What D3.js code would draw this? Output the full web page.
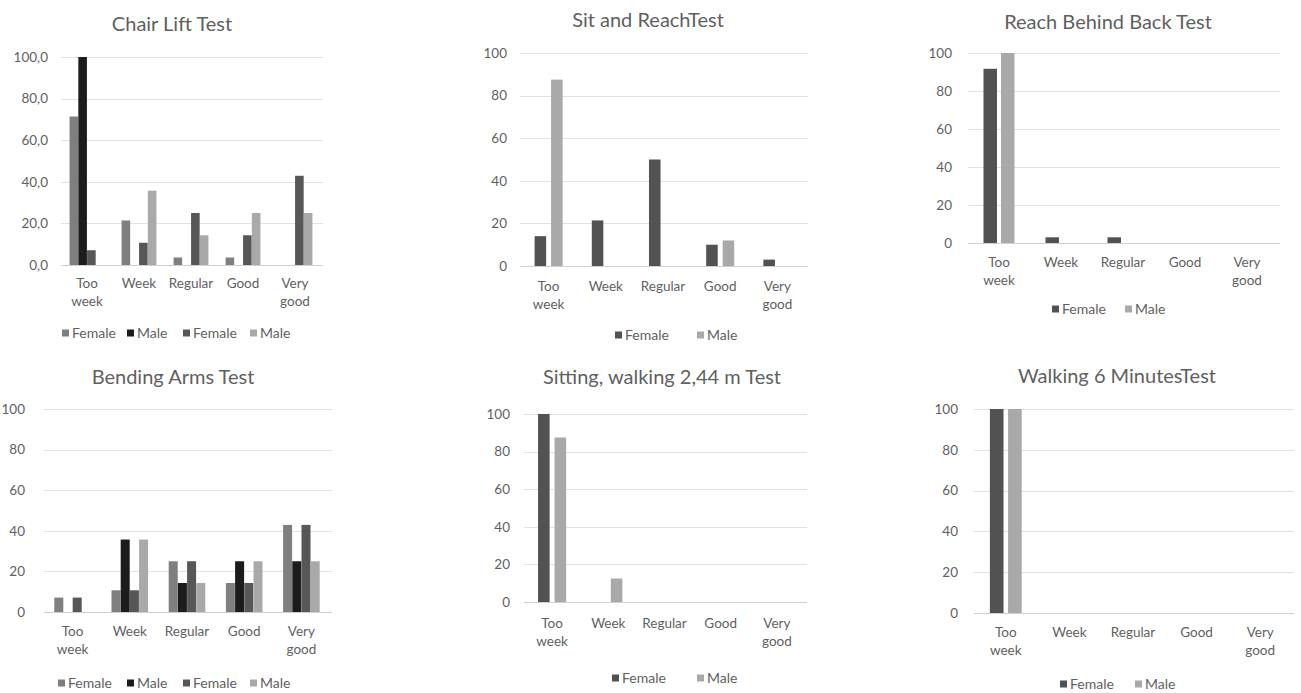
<!DOCTYPE html>
<html>
<head>
<meta charset="utf-8">
<script src="https://cdn.jsdelivr.net/npm/d3@7"></script>
<style>
  html, body { margin: 0; padding: 0; background: #fff; }
  svg { display: block; }
  text { font-family: Lato, "Open Sans", sans-serif; fill: #5f5f5f; }
</style>
</head>
<body>
<svg id="chart" width="1301" height="693"></svg>
<script>
// ---------- DATA ----------
const categories = ["Too week", "Week", "Regular", "Good", "Very good"];
const categoryLines = [["Too", "week"], ["Week"], ["Regular"], ["Good"], ["Very", "good"]];
const yTicks = [0, 20, 40, 60, 80, 100];

const seriesNames4 = ["Female", "Male", "Female", "Male"];
const seriesNames2 = ["Female", "Male"];

const chairFemaleA = [71.4, 21.4, 3.6, 3.6, 0];
const chairMaleA   = [100, 0, 0, 0, 0];
const chairFemaleB = [7.1, 10.7, 25, 14.3, 42.9];
const chairMaleB   = [0, 35.7, 14.3, 25, 25];

const sitReachFemale = [14, 21.4, 50, 10, 3];
const sitReachMale   = [87.5, 0, 0, 12, 0];

const reachBackFemale = [91.7, 3, 3, 0, 0];
const reachBackMale   = [100, 0, 0, 0, 0];

const bendFemaleA = [7.1, 10.7, 25, 14.3, 42.9];
const bendMaleA   = [0, 35.7, 14.3, 25, 25];
const bendFemaleB = [7.1, 10.7, 25, 14.3, 42.9];
const bendMaleB   = [0, 35.7, 14.3, 25, 25];

const sitWalkFemale = [100, 0, 0, 0, 0];
const sitWalkMale   = [87.5, 12.5, 0, 0, 0];

const walk6Female = [100, 0, 0, 0, 0];
const walk6Male   = [100, 0, 0, 0, 0];

// ---------- STYLE / LAYOUT ----------
const colors4 = ["#7f7f7f", "#1c1c1c", "#575757", "#a9a9a9"];
const colors2 = ["#525252", "#a9a9a9"];

const panels = [
  { title: "Chair Lift Test", names: seriesNames4, colors: colors4,
    values: [chairFemaleA, chairMaleA, chairFemaleB, chairMaleB], decimals: true,
    x0: 61, x1: 321, yTop: 57, yBot: 265, tickX: 48, titleX: 172, titleY: 24,
    catY: 283, legendY: 333, legendX: [62, 127, 183, 250], gPad: 0.33, sPad: 0.02 },
  { title: "Sit and ReachTest", names: seriesNames2, colors: colors2,
    values: [sitReachFemale, sitReachMale], decimals: false,
    x0: 520, x1: 806, yTop: 53, yBot: 266, tickX: 507, titleX: 648, titleY: 20,
    catY: 286, legendY: 335, legendX: [615, 697], gPad: 0.51, sPad: 0.3 },
  { title: "Reach Behind Back Test", names: seriesNames2, colors: colors2,
    values: [reachBackFemale, reachBackMale], decimals: false,
    x0: 968, x1: 1278, yTop: 53, yBot: 243, tickX: 952, titleX: 1108, titleY: 22,
    catY: 262, legendY: 309, legendX: [1052, 1125], gPad: 0.5, sPad: 0.23 },
  { title: "Bending Arms Test", names: seriesNames4, colors: colors4,
    values: [bendFemaleA, bendMaleA, bendFemaleB, bendMaleB], decimals: false,
    x0: 44, x1: 330, yTop: 409, yBot: 612, tickX: 25, titleX: 173, titleY: 377,
    catY: 631, legendY: 683, legendX: [58, 127, 183, 250], gPad: 0.36, sPad: 0.02 },
  { title: "Sitting, walking 2,44 m Test", names: seriesNames2, colors: colors2,
    values: [sitWalkFemale, sitWalkMale], decimals: false,
    x0: 524, x1: 805, yTop: 414, yBot: 602, tickX: 510, titleX: 662, titleY: 377,
    catY: 623, legendY: 678, legendX: [612, 697], gPad: 0.5, sPad: 0.3 },
  { title: "Walking 6 MinutesTest", names: seriesNames2, colors: colors2,
    values: [walk6Female, walk6Male], decimals: false,
    x0: 974, x1: 1292, yTop: 409, yBot: 613, tickX: 958, titleX: 1117, titleY: 376,
    catY: 632, legendY: 684, legendX: [1060, 1135], gPad: 0.5, sPad: 0.25 }
];

const svg = d3.select("#chart");
const commaFmt = v => d3.format(".1f")(v).replace(".", ",");

panels.forEach(p => {
  const g = svg.append("g");
  const x = d3.scaleBand().domain(categories).range([p.x0, p.x1])
    .paddingInner(p.gPad).paddingOuter(p.gPad / 2);
  const xs = d3.scaleBand().domain(d3.range(p.values.length))
    .range([0, x.bandwidth()]).paddingInner(p.sPad).paddingOuter(0);
  const y = d3.scaleLinear().domain([0, 100]).range([p.yBot, p.yTop]);

  // gridlines
  g.append("g").selectAll("line").data(yTicks).join("line")
    .attr("x1", p.x0).attr("x2", p.x1 + 2)
    .attr("y1", d => Math.round(y(d)) + 0.5).attr("y2", d => Math.round(y(d)) + 0.5)
    .attr("stroke", d => d === 0 ? "#d0d0d0" : "#e2e2e2").attr("stroke-width", 1.2);

  // y axis labels
  const yAxis = d3.axisLeft(y).tickValues(yTicks)
    .tickFormat(d => p.decimals ? commaFmt(d) : d3.format("d")(d))
    .tickSize(0).tickPadding(0);
  const ya = g.append("g").attr("transform", `translate(${p.tickX},0)`).call(yAxis);
  ya.select(".domain").remove();
  ya.selectAll("text").attr("font-size", 13.5).attr("fill", "#5f5f5f")
    .attr("font-family", "Lato, sans-serif");

  // bars
  p.values.forEach((vals, si) => {
    g.append("g").selectAll("rect").data(vals.map((v, i) => ({ v, c: categories[i] })).filter(d => d.v > 0))
      .join("rect")
      .attr("x", d => x(d.c) + xs(si))
      .attr("width", xs.bandwidth())
      .attr("y", d => y(d.v))
      .attr("height", d => y(0) - y(d.v))
      .attr("fill", p.colors[si]);
  });

  // category labels
  const cl = g.append("g").selectAll("text").data(categories).join("text")
    .attr("x", d => x(d) + x.bandwidth() / 2)
    .attr("y", p.catY)
    .attr("text-anchor", "middle")
    .attr("font-size", 13.5);
  cl.each(function(d, i) {
    d3.select(this).selectAll("tspan").data(categoryLines[i]).join("tspan")
      .attr("x", x(d) + x.bandwidth() / 2)
      .attr("dy", (t, j) => j === 0 ? "0.35em" : "1.35em")
      .text(t => t);
  });

  // title
  g.append("text").attr("x", p.titleX).attr("y", p.titleY)
    .attr("dy", "0.35em").attr("text-anchor", "middle")
    .attr("font-size", 20).text(p.title);

  // legend
  p.names.forEach((n, i) => {
    const lx = p.legendX[i];
    g.append("rect").attr("x", lx).attr("y", p.legendY - 3.5)
      .attr("width", 7).attr("height", 7).attr("fill", p.colors[i]);
    g.append("text").attr("x", lx + 10).attr("y", p.legendY).attr("dy", "0.35em")
      .attr("font-size", 14).text(n);
  });
});
</script>
</body>
</html>
